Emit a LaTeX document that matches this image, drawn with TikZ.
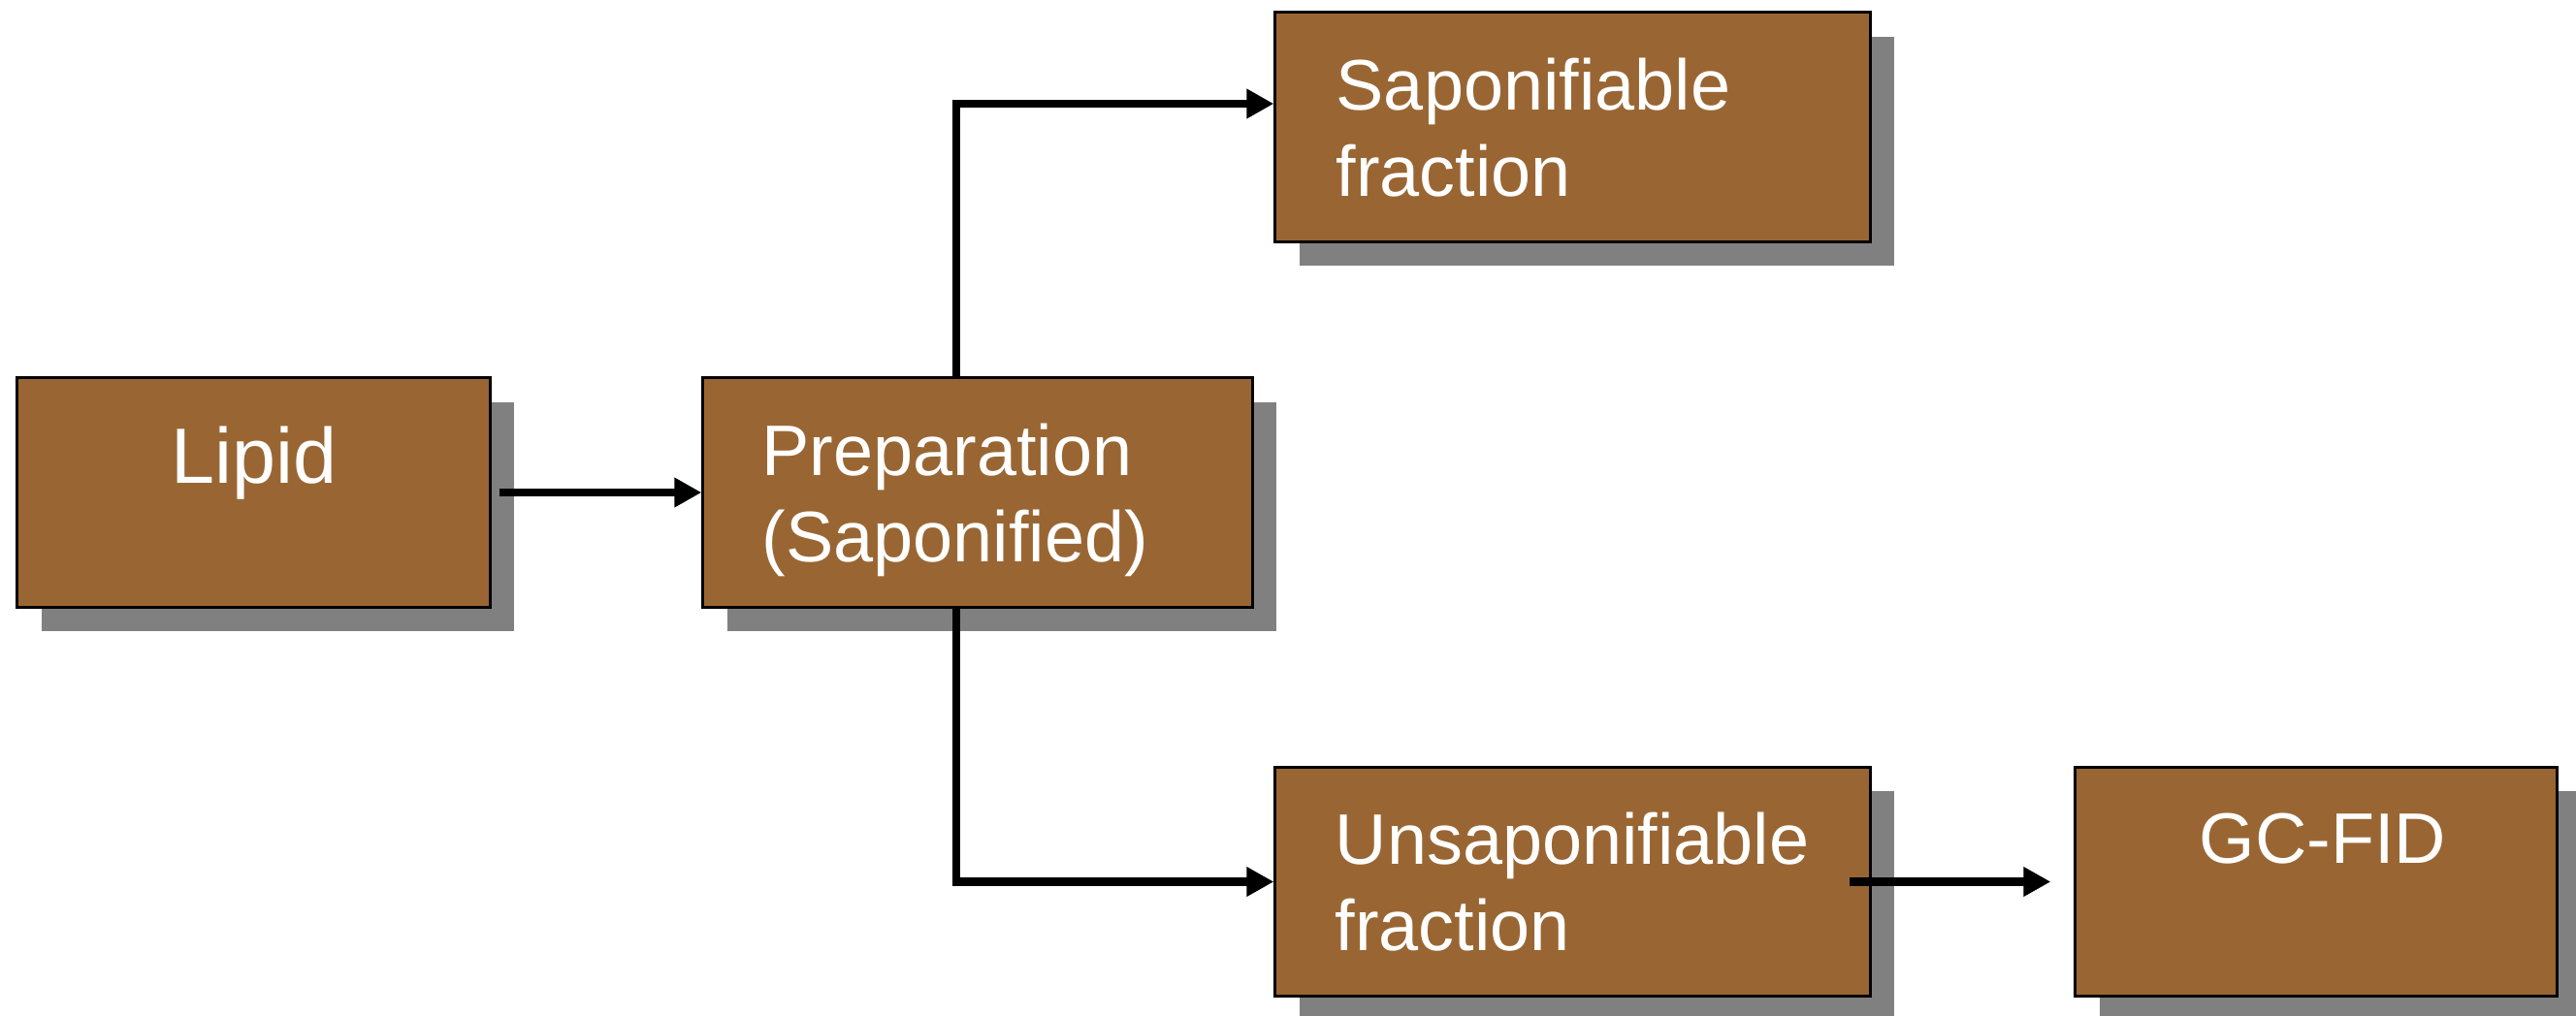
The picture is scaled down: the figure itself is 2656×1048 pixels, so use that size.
\documentclass[tikz,border=0pt]{standalone}
\usepackage{fontspec}
\setmainfont{Liberation Sans}
\usetikzlibrary{positioning, calc, shadows, arrows.meta}
\definecolor{boxbrown}{HTML}{996633}
\definecolor{shadowgray}{HTML}{808080}

\begin{document}
\begin{tikzpicture}[x=0.01cm, y=-0.01cm]
        \tikzstyle{box}=[rectangle, draw=black, line width=0.03cm, fill=boxbrown, minimum height=2.36cm, drop shadow={shadow xshift=0.25cm, shadow yshift=-0.25cm, fill=shadowgray, opacity=1}];
        \tikzstyle{txt}=[text=white, inner sep=0, align=left, font=\fontsize{21pt}{25.3pt}\selectfont];
        \tikzstyle{conn}=[line width=0.085cm, -{Triangle[length=0.28cm, width=0.29cm]}];

        \useasboundingbox (0, 0) rectangle (2656, 1048);

        \node[box, minimum width=4.87cm] (lipid) at (261.5, 508) {};
        \node[box, minimum width=5.66cm] (prep) at (1008, 508) {};
        \node[box, minimum width=6.13cm] (sap) at (1621.5, 131) {};
        \node[box, minimum width=6.13cm] (unsap) at (1621.5, 909.5) {};
        \node[box, minimum width=4.96cm] (gcfid) at (2388, 909.5) {};

        % base of a two-line node is the last line
        \node[txt, anchor=base, font=\fontsize{23pt}{27pt}\selectfont] (lipidtxt) at (262, 498) {Lipid};
        \node[txt, anchor=base west] (preptxt) at (785, 579) {Preparation\\(Saponified)};
        \node[txt, anchor=base west] (saptxt) at (1377, 202) {Saponifiable\\fraction};
        \node[txt, anchor=base west] (unsaptxt) at (1376, 980) {Unsaponifiable\\fraction};
        \node[txt, anchor=base] (gcfidtxt) at (2395, 890) {GC-FID};

        \draw[conn] ([xshift=0.08cm]lipid.east) -- (prep.west);
        \draw[conn] ([xshift=-0.22cm]prep.north) |- ([yshift=0.24cm]sap.west);
        \draw[conn] ([xshift=-0.22cm]prep.south) |- (unsap.west);
        \draw[conn] ([xshift=-0.23cm]unsap.east) -- ([xshift=-0.24cm]gcfid.west);
\end{tikzpicture}
\end{document}
